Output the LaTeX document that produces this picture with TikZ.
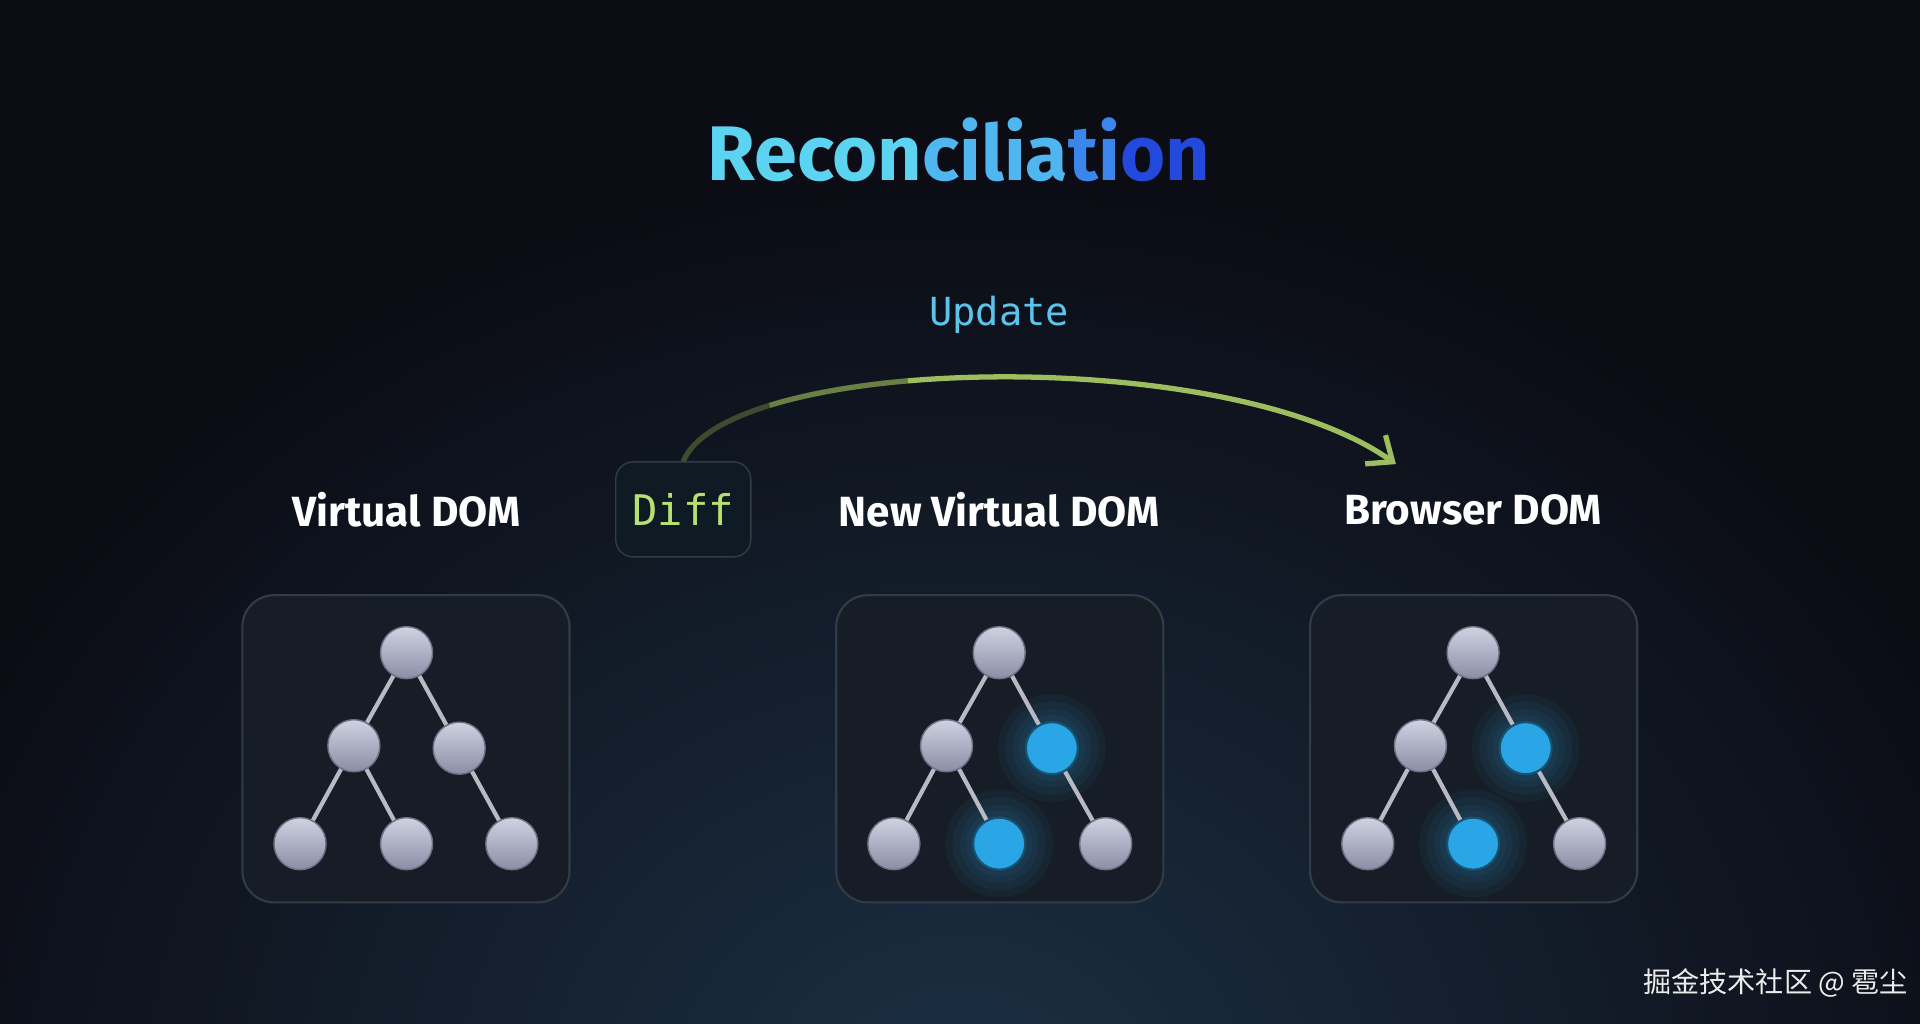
\documentclass[tikz,border=0pt]{standalone}
\usepackage{fontspec}
\setmainfont{Fira Sans}
\setmonofont{DejaVu Sans Mono}
\newfontfamily\cjk{Noto Sans CJK SC}
\usetikzlibrary{arrows.meta,positioning,shapes}
\definecolor{bgdark}{HTML}{0B0C14}
\definecolor{bgglow}{HTML}{1C3044}
\definecolor{panelfill}{HTML}{161D26}
\definecolor{paneldraw}{HTML}{333B46}
\definecolor{difffill}{HTML}{0E1A24}
\definecolor{nodetop}{HTML}{D0D2E2}
\definecolor{nodebot}{HTML}{8A8EA6}
\definecolor{newblue}{HTML}{2AA6E6}
\definecolor{updcyan}{HTML}{5CC4EC}
\definecolor{diffgreen}{HTML}{B8E070}
\tikzstyle{panel}=[rectangle,rounded corners=9pt,draw=paneldraw,fill=panelfill,
minimum width=3.27cm,minimum height=3.07cm,line width=0.6pt]
\tikzstyle{vnode}=[circle,minimum size=0.52cm,inner sep=0pt,top color=nodetop,bottom color=nodebot,draw=nodebot!80!black,line width=0.4pt]
\tikzstyle{bnode}=[circle,minimum size=0.52cm,inner sep=0pt,fill=newblue,draw=newblue!50!black,line width=0.6pt]
\tikzstyle{link}=[draw=nodetop!70!gray,line width=1.2pt]
\tikzstyle{heading}=[text=white,font=\bfseries\fontsize{12}{14}\selectfont]
\begin{document}
\begin{tikzpicture}[x=0.012245cm,y=-0.012245cm]
            % BACKGROUND
            \fill[bgdark] (0,0) rectangle (1568,836);
            \begin{scope}
            \clip (0,0) rectangle (1568,836);
            \shade[inner color=bgglow,outer color=bgdark] (784,900) ellipse (900 and 760);
            \end{scope}
            \useasboundingbox (0,0) rectangle (1568,836);

            % TITLE
            \node[font=\bfseries\fontsize{22}{26}\selectfont] (title) at (783,122)
            {\textcolor[HTML]{5DD3F2}{Recon}\textcolor[HTML]{4FB6F0}{cilia}\textcolor[HTML]{3A86EA}{ti}\textcolor[HTML]{2348DC}{on}};

            % HEADINGS
            \node[heading] (h1) at (332,416) {Virtual DOM};
            \node[heading] (h2) at (816,416) {New Virtual DOM};
            \node[heading] (h3) at (1203,416) {Browser DOM};

            % DIFF AND UPDATE
            \node[rectangle,rounded corners=5pt,draw=paneldraw,fill=difffill,minimum width=1.35cm,minimum height=0.95cm,
            font=\ttfamily\fontsize{12}{14}\selectfont,text=diffgreen] (diff) at (558,416) {Diff};
            \node[font=\ttfamily\fontsize{11}{13}\selectfont,text=updcyan] (upd) at (816,257) {Update};
            \coordinate (tgt) at (1140,379);
            \draw[diffgreen!85!black,line width=1.5pt,-{Straight Barb[length=6pt,width=10pt]}]
            (diff.north) .. controls (595,290) and (1000,280) .. (tgt);
            \draw[bgdark,line width=1.7pt,opacity=0.35,dash pattern=on 70pt off 2000pt]
            (diff.north) .. controls (595,290) and (1000,280) .. (tgt);
            \draw[bgdark,line width=1.7pt,opacity=0.45,dash pattern=on 30pt off 2000pt]
            (diff.north) .. controls (595,290) and (1000,280) .. (tgt);

            % PANELS
            \node[panel] (pa) at (331.5,611.5) {};
            \node[panel] (pb) at (816.5,611.5) {};
            \node[panel] (pc) at (1203.5,611.5) {};

            % GLOWS
            \foreach \gx/\gy in {859/611,816/689,1246/611,1203/689}{
              \foreach \r in {44,38,32,27}{
                \fill[newblue,opacity=0.06] (\gx,\gy) circle (\r);}}

            % TREE A
            \node[vnode] (a0) at (332,533) {};
            \node[vnode] (a1) at (289,609) {};
            \node[vnode] (a2) at (375,611) {};
            \node[vnode] (a3) at (245,689) {};
            \node[vnode] (a4) at (332,689) {};
            \node[vnode] (a5) at (418,689) {};
            \path[link] (a0) -- (a1) (a0) -- (a2) (a1) -- (a3) (a1) -- (a4) (a2) -- (a5);

            % TREE B
            \node[vnode] (b0) at (816,533) {};
            \node[vnode] (b1) at (773,609) {};
            \node[bnode] (b2) at (859,611) {};
            \node[vnode] (b3) at (730,689) {};
            \node[bnode] (b4) at (816,689) {};
            \node[vnode] (b5) at (903,689) {};
            \path[link] (b0) -- (b1) (b0) -- (b2) (b1) -- (b3) (b1) -- (b4) (b2) -- (b5);

            % TREE C
            \node[vnode] (c0) at (1203,533) {};
            \node[vnode] (c1) at (1160,609) {};
            \node[bnode] (c2) at (1246,611) {};
            \node[vnode] (c3) at (1117,689) {};
            \node[bnode] (c4) at (1203,689) {};
            \node[vnode] (c5) at (1290,689) {};
            \path[link] (c0) -- (c1) (c0) -- (c2) (c1) -- (c3) (c1) -- (c4) (c2) -- (c5);

            % WATERMARK
            \node[text=white!85!gray,font=\cjk\fontsize{8}{10}\selectfont] (wm) at (1450,803) {掘金技术社区 @ 雹尘};
\end{tikzpicture}
\end{document}
